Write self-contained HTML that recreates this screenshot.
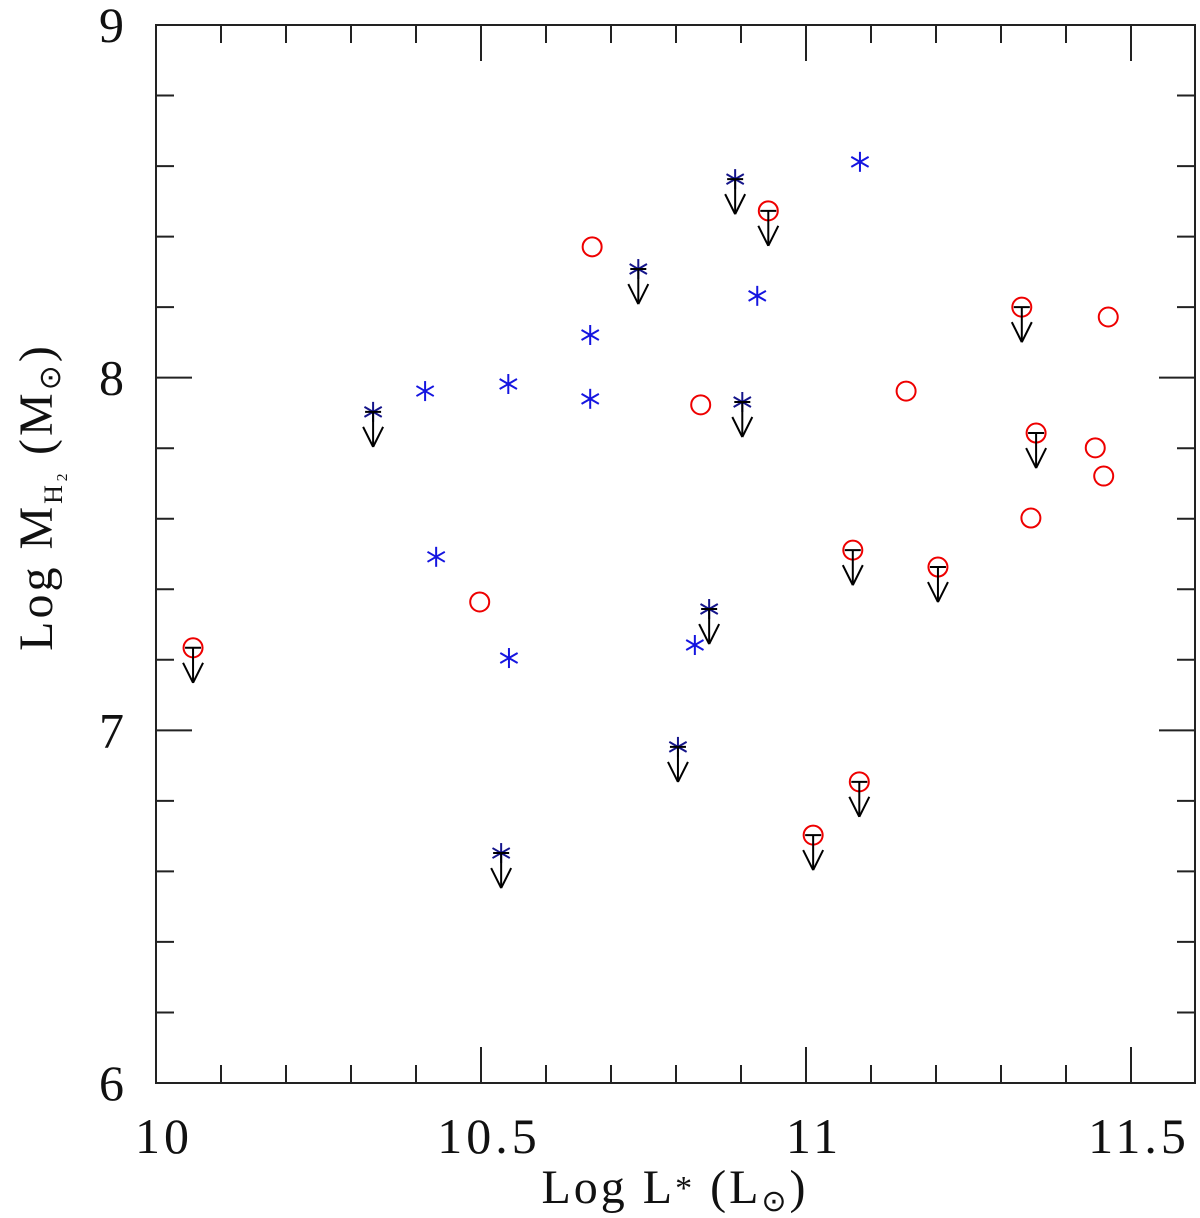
<!DOCTYPE html>
<html><head><meta charset="utf-8"><style>
body{margin:0;background:#fff;}
svg{display:block;font-family:"Liberation Serif",serif;}
</style></head><body>
<svg id="chart" width="1200" height="1218" viewBox="0 0 1200 1218" xmlns="http://www.w3.org/2000/svg">
<rect x="156" y="25" width="1039" height="1058" fill="none" stroke="#222" stroke-width="2"/>
<g id="ticks"></g>
<g id="marks"></g>
<text x="675" y="1203" font-size="48" letter-spacing="3" text-anchor="middle" fill="#111">Log  L<tspan font-size="34" dy="-4">*</tspan><tspan dy="4">  (L</tspan><tspan font-size="30" dy="8">⊙</tspan><tspan dy="-8">)</tspan></text>
<text transform="translate(52,497) rotate(-90)" font-size="48" letter-spacing="3" text-anchor="middle" fill="#111">Log  M<tspan font-size="26" dy="10">H₂</tspan><tspan dy="-10">  (M</tspan><tspan font-size="30" dy="8">⊙</tspan><tspan dy="-8">)</tspan></text>
</svg>
<script>
const xTickLabels=["10","10.5","11","11.5"];
const yTickLabels=["6","7","8","9"];
const starX=[10.414,10.542,10.668,10.668,10.925,11.083,10.431,10.543,10.829];
const starY=[7.962,7.982,8.121,7.940,8.232,8.612,7.492,7.205,7.242];
const starLimX=[10.334,10.742,10.891,10.902,10.851,10.803,10.531];
const starLimY=[7.903,8.308,8.563,7.931,7.344,6.953,6.652];
const circX=[10.671,10.838,11.154,10.498,11.465,11.445,11.346,11.458];
const circY=[8.371,7.923,7.962,7.364,8.172,7.801,7.602,7.721];
const circLimX=[10.057,10.942,11.332,11.354,11.072,11.203,11.082,11.011];
const circLimY=[7.234,8.473,8.200,7.843,7.511,7.463,6.854,6.703];
const X0=156,X1=1195,Y0=25,Y1=1083,xmin=10,xmax=10+(1195-156)/650,ymin=6,ymax=9;
function sx(v){return X0+(v-xmin)/(xmax-xmin)*(X1-X0);}
function sy(v){return Y1-(v-ymin)/(ymax-ymin)*(Y1-Y0);}
const NS="http://www.w3.org/2000/svg";
function mk(tag,attrs,parent){const e=document.createElementNS(NS,tag);for(const k in attrs)e.setAttribute(k,attrs[k]);parent.appendChild(e);return e;}
const tk=document.getElementById('ticks');
const mg=document.getElementById('marks');
function line(x1,y1,x2,y2,c,p,w){return mk('line',{x1:x1,y1:y1,x2:x2,y2:y2,stroke:c,'stroke-width':w||2},p);}
for(let i=0;i<=15;i++){const v=10+i*0.1;const x=sx(v);if(x>X1)break;const L=(i%5===0)?36:18;
 let a=line(x,Y1,x,Y1-L,'#222',tk);
 let b=line(x,Y0,x,Y0+L,'#222',tk);}
for(let i=0;i<=15;i++){const v=6+i*0.2;const y=sy(v);const L=(i%5===0)?36:18;
 let a=line(X0,y,X0+L,y,'#222',tk);
 let b=line(X1,y,X1-L,y,'#222',tk);}
xTickLabels.forEach(s=>{const t=mk('text',{x:sx(parseFloat(s))+8,y:1153,'font-size':50,'letter-spacing':4,'text-anchor':'middle',fill:'#111'},tk);t.textContent=s;
 });
yTickLabels.forEach(s=>{const t=mk('text',{x:124,y:sy(parseFloat(s))+17,'font-size':50,'text-anchor':'end',fill:'#111'},tk);t.textContent=s;
 });
function star(x,y,c){const g=mk('g',{},mg);
 const r=10;for(const ang of [90,30,150]){const a=ang*Math.PI/180;line(x-r*Math.cos(a),y-r*Math.sin(a),x+r*Math.cos(a),y+r*Math.sin(a),c,g);}return g;}
function circ(x,y){const g=mk('g',{},mg);
 mk('circle',{cx:x,cy:y,r:9.5,fill:'none',stroke:'#e00','stroke-width':2},g);return g;}
function arrow(x,y,bar){const g=mk('g',{},mg);
 line(x,y,x,y+35,'#000',g);line(x-10,y+15,x,y+35,'#000',g);line(x+10,y+15,x,y+35,'#000',g);if(bar)line(x-8,y,x+8,y,'#000',g);}
starX.forEach((v,i)=>star(sx(v),sy(starY[i]),'#1515e0'));
circX.forEach((v,i)=>circ(sx(v),sy(circY[i])));
starLimX.forEach((v,i)=>{const x=sx(v),y=sy(starLimY[i]);star(x,y,'#14148a');arrow(x,y,true);});
circLimX.forEach((v,i)=>{const x=sx(v),y=sy(circLimY[i]);circ(x,y);arrow(x,y,true);});
</script>
</body></html>
